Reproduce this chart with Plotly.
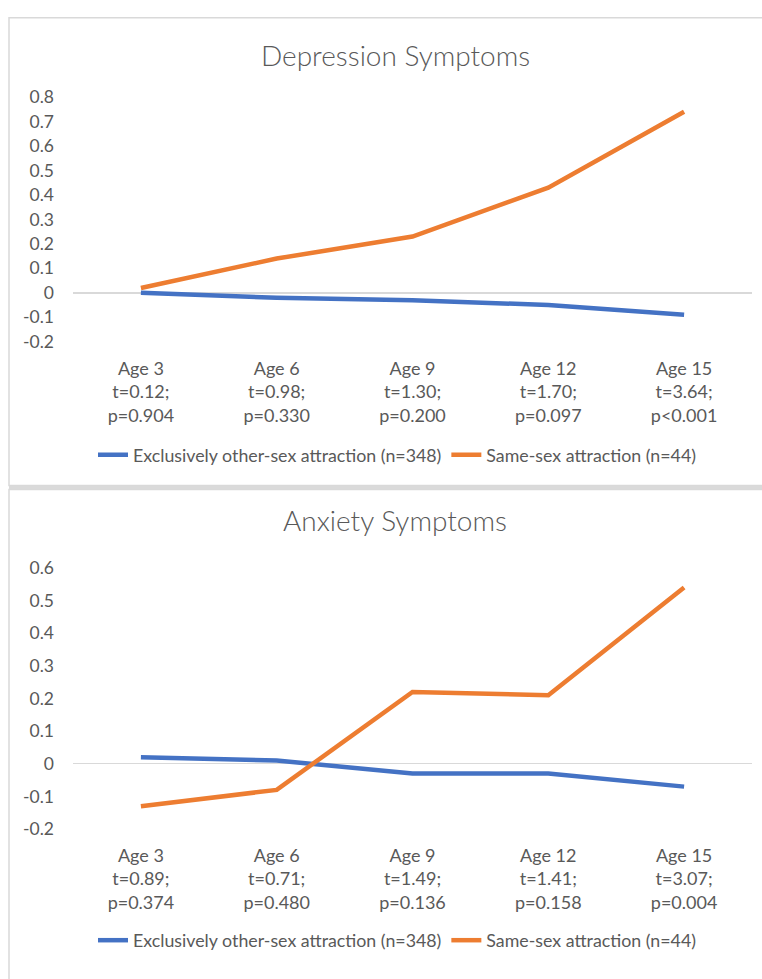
import plotly.graph_objects as go

W, H = 762, 979

# ---------------- data ----------------
ages = ["Age 3", "Age 6", "Age 9", "Age 12", "Age 15"]
dep_t = ["t=0.12;", "t=0.98;", "t=1.30;", "t=1.70;", "t=3.64;"]
dep_p = ["p=0.904", "p=0.330", "p=0.200", "p=0.097", "p<0.001"]
anx_t = ["t=0.89;", "t=0.71;", "t=1.49;", "t=1.41;", "t=3.07;"]
anx_p = ["p=0.374", "p=0.480", "p=0.136", "p=0.158", "p=0.004"]

dep_other = [0.0, -0.02, -0.03, -0.05, -0.09]
dep_same = [0.02, 0.14, 0.23, 0.43, 0.74]
anx_other = [0.02, 0.01, -0.03, -0.03, -0.07]
anx_same = [-0.13, -0.08, 0.22, 0.21, 0.54]

series_names = ["Exclusively other-sex attraction (n=348)", "Same-sex attraction (n=44)"]
titles = ["Depression Symptoms", "Anxiety Symptoms"]
dep_yticks = [0.8, 0.7, 0.6, 0.5, 0.4, 0.3, 0.2, 0.1, 0, -0.1, -0.2]
anx_yticks = [0.6, 0.5, 0.4, 0.3, 0.2, 0.1, 0, -0.1, -0.2]

colors = ["#4472C4", "#ED7D31"]
TXT = "#595959"
FONT = "Lato"


def px_x(x):
    return x / W


def px_y(y):
    return 1 - y / H


def cat_labels(t_list, p_list):
    return [f"{a}<br>{t}<br>{p.replace('<', '&lt;')}" for a, t, p in zip(ages, t_list, p_list)]


dep_x = cat_labels(dep_t, dep_p)
anx_x = cat_labels(anx_t, anx_p)

fig = go.Figure()
for name, col, ys in zip(series_names, colors, [dep_other, dep_same]):
    fig.add_trace(go.Scatter(x=dep_x, y=ys, mode="lines", name=name,
                             line=dict(color=col, width=4.5),
                             xaxis="x", yaxis="y", legend="legend"))
for name, col, ys in zip(series_names, colors, [anx_other, anx_same]):
    fig.add_trace(go.Scatter(x=anx_x, y=ys, mode="lines", name=name,
                             line=dict(color=col, width=4.5),
                             xaxis="x2", yaxis="y2", legend="legend2"))

xdom = [px_x(73), px_x(752)]
xtickfont = dict(family=FONT, size=18, color=TXT)
ytickfont = dict(family=FONT, size=17.5, color=TXT)


def xaxis(anchor):
    return dict(domain=xdom, anchor=anchor, type="category", range=[-0.5, 4.5],
                showgrid=False, showline=False, zeroline=False, ticks="",
                tickfont=xtickfont, ticklabelstandoff=14, fixedrange=True)


def yaxis(anchor, dom, rng, ticks):
    return dict(domain=dom, anchor=anchor, range=rng, tickvals=ticks,
                ticktext=[f"{v:g}" for v in ticks], showgrid=False, showline=False,
                zeroline=True, zerolinecolor="#D9D9D9", zerolinewidth=1.5,
                ticks="", tickfont=ytickfont, ticklabelstandoff=18, fixedrange=True)


legfont = dict(family=FONT, size=17.8, color=TXT)

fig.update_layout(
    width=W, height=H,
    margin=dict(l=0, r=0, t=0, b=0),
    paper_bgcolor="white", plot_bgcolor="white",
    font=dict(family=FONT, color=TXT),
    hovermode=False,
    xaxis=xaxis("y"),
    yaxis=yaxis("x", [px_y(338), px_y(88)], [-0.2, 0.8], dep_yticks),
    xaxis2=xaxis("y2"),
    yaxis2=yaxis("x2", [px_y(836), px_y(569)], [-0.2, 0.6], anx_yticks),
    legend=dict(orientation="h", x=px_x(397), y=px_y(454), xanchor="center", yanchor="middle",
                font=legfont, bgcolor="rgba(0,0,0,0)", itemclick=False, itemdoubleclick=False),
    legend2=dict(orientation="h", x=px_x(397), y=px_y(950), xanchor="center", yanchor="middle",
                 font=legfont, bgcolor="rgba(0,0,0,0)", itemclick=False, itemdoubleclick=False),
    annotations=[
        dict(text=titles[0], x=px_x(395), y=px_y(45), xref="paper", yref="paper",
             showarrow=False, xanchor="center", yanchor="middle",
             font=dict(family=FONT, size=28, color=TXT, weight=300)),
        dict(text=titles[1], x=px_x(395), y=px_y(520), xref="paper", yref="paper",
             showarrow=False, xanchor="center", yanchor="middle",
             font=dict(family=FONT, size=28, color=TXT, weight=300)),
    ],
    shapes=[
        dict(type="rect", xref="paper", yref="paper", x0=px_x(9), x1=1.05,
             y0=px_y(485), y1=px_y(7), line=dict(color="#D9D9D9", width=1.5)),
        dict(type="rect", xref="paper", yref="paper", x0=px_x(9), x1=1.05,
             y0=-0.05, y1=px_y(489), line=dict(color="#D9D9D9", width=1.5)),
        dict(type="line", xref="paper", yref="paper", x0=px_x(9), x1=1.05,
             y0=px_y(487), y1=px_y(487), line=dict(color="#DADADA", width=4)),
    ],
)

fig.write_html(
    "out.html",
    config={"displayModeBar": False, "staticPlot": True},
    post_script="document.body.style.margin='0';document.body.style.overflow='hidden';",
)
